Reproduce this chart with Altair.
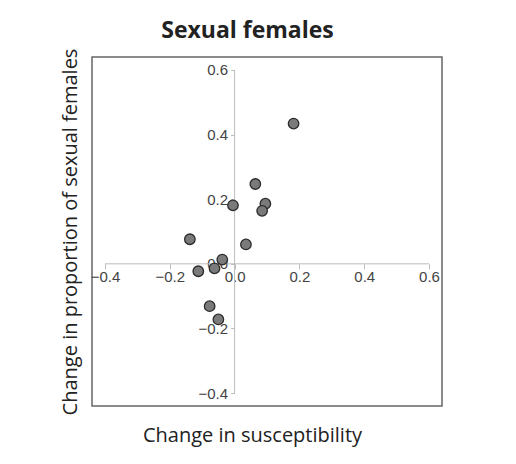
import altair as alt
import pandas as pd

# Data
susceptibility = [0.182, 0.064, 0.095, 0.085, -0.005, -0.138, 0.035, -0.038, -0.062, -0.112, -0.077, -0.050]
sexual_females = [0.434, 0.247, 0.186, 0.164, 0.181, 0.076, 0.060, 0.013, -0.014, -0.023, -0.131, -0.172]
tick_values = [-0.4, -0.2, 0.0, 0.2, 0.4, 0.6]

W, H = 350, 349
xdom = [-0.44, 0.64]
ydom = [-0.44, 0.64]
x0 = W * (0 - xdom[0]) / (xdom[1] - xdom[0])
y0 = H * (ydom[1] - 0) / (ydom[1] - ydom[0])

pts = pd.DataFrame({"x": susceptibility, "y": sexual_females})
xline = pd.DataFrame({"x": [tick_values[0]], "x2": [tick_values[-1]], "y": [0.0]})
yline = pd.DataFrame({"x": [0.0], "y": [tick_values[0]], "y2": [tick_values[-1]]})

AX_COL = "#bdbdbd"
LAB_FONT = "Liberation Sans"
TITLE_FONT = "Open Sans"

xaxis = alt.Axis(
    values=tick_values, format=".1f", domain=False, grid=False,
    tickColor=AX_COL, tickSize=5, tickWidth=1,
    labelFont=LAB_FONT, labelFontSize=15, labelColor="#444", labelPadding=1,
    labelOverlap=False, labelFlush=False,
    offset=-(H - y0),
    title="Change in susceptibility", titleFont=TITLE_FONT, titleFontSize=20,
    titleFontWeight="normal", titleColor="#222", titleBaseline="alphabetic",
    titleX=160, titleY=384 - y0 + 0.5, titleAnchor="middle",
)
yaxis = alt.Axis(
    values=tick_values, format=".1f", domain=False, grid=False,
    tickColor=AX_COL, tickSize=4, tickWidth=1,
    labelFont=LAB_FONT, labelFontSize=15, labelColor="#444", labelPadding=3,
    labelOverlap=False, labelFlush=False,
    offset=-x0,
    title="Change in proportion of sexual females", titleFont=TITLE_FONT,
    titleFontSize=20, titleFontWeight="normal", titleColor="#222",
    titleBaseline="alphabetic", titleAngle=270,
    titleX=-15.3 - x0, titleY=H / 2, titleAnchor="middle",
)

xs = alt.Scale(domain=xdom, nice=False, zero=False)
ys = alt.Scale(domain=ydom, nice=False, zero=False)

X = alt.X("x:Q", scale=xs, axis=xaxis)
Y = alt.Y("y:Q", scale=ys, axis=yaxis)

hline = alt.Chart(xline).mark_rule(color=AX_COL, strokeWidth=1).encode(x=X, x2="x2:Q", y=Y)
vline = alt.Chart(yline).mark_rule(color=AX_COL, strokeWidth=1).encode(x=X, y=Y, y2="y2:Q")
points = alt.Chart(pts).mark_point(
    shape="circle", filled=True, fill="#7a7a7a", stroke="#2b2b2b",
    strokeWidth=1.3, size=110, opacity=1,
).encode(x=X, y=Y)

chart = alt.layer(hline, vline, points).properties(
    width=W, height=H,
    title=alt.TitleParams(
        "Sexual females", font=TITLE_FONT, fontSize=23, fontWeight="bold",
        color="#222", anchor="middle", dx=-19.5, dy=31, offset=18, baseline="alphabetic",
    ),
    autosize=alt.AutoSizeParams(type="none"),
    padding={"left": 84, "top": 49, "right": 16, "bottom": 50},
).configure_view(stroke="#666", strokeWidth=1.5)

chart.save("out.html", embed_options={"renderer": "svg", "actions": False})
